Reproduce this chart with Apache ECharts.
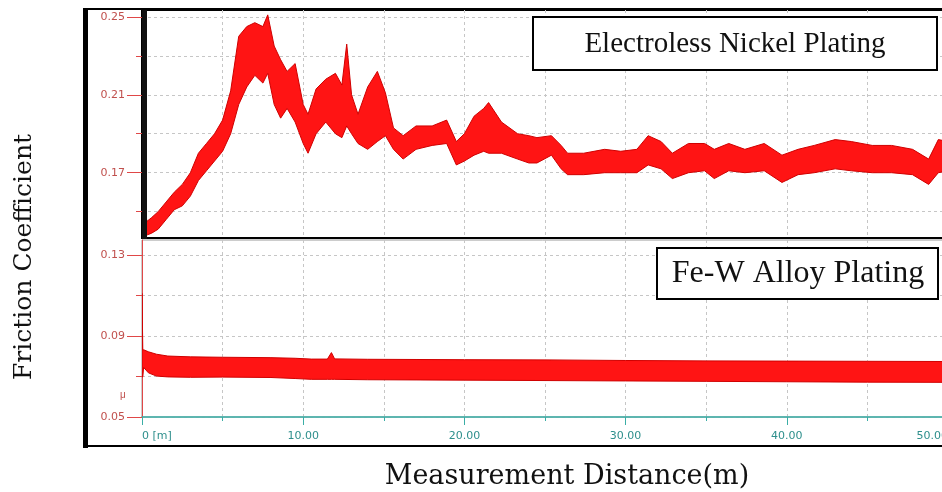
<!DOCTYPE html>
<html>
<head>
<meta charset="utf-8">
<script src="https://cdn.jsdelivr.net/npm/echarts@6/dist/echarts.min.js"></script>
<style>
  html, body { margin: 0; padding: 0; background: #fff; }
  #main { width: 942px; height: 492px; }
</style>
</head>
<body>
<div id="main"></div>
<script>
// Electroless Nickel Plating: distance (m) and lower / upper edge of the trace
const niDist = [0, 0.05, 0.3, 0.6, 1.0, 1.5, 2.0, 2.5, 3.0, 3.5, 4.0, 4.5, 5.0, 5.5, 6.0, 6.5, 7.0, 7.5, 7.8, 8.2,
  8.6, 9.0, 9.5, 10.0, 10.3, 10.8, 11.4, 12.0, 12.4, 12.7, 13.0, 13.4, 14.0, 14.6, 15.1, 15.6, 16.2, 17.0, 18.0, 18.9,
  19.5, 20.0, 20.6, 21.2, 21.5, 22.3, 23.3, 24.0, 24.5, 25.4, 26.0, 26.4, 27.4, 28.7, 29.7, 30.7, 31.4, 32.2, 32.9, 33.9,
  34.9, 35.5, 36.4, 37.4, 38.6, 39.7, 40.7, 41.7, 43.0, 44.0, 45.3, 46.5, 47.8, 48.8, 49.4, 50.0]
const niLow = [0.150, 0.140, 0.138, 0.139, 0.141, 0.146, 0.151, 0.153, 0.158, 0.166, 0.171, 0.176, 0.181, 0.190, 0.205, 0.214, 0.220, 0.216, 0.221, 0.205,
  0.198, 0.203, 0.196, 0.185, 0.180, 0.190, 0.196, 0.190, 0.188, 0.194, 0.190, 0.185, 0.182, 0.186, 0.189, 0.182, 0.177, 0.182, 0.184, 0.185,
  0.174, 0.176, 0.179, 0.181, 0.180, 0.180, 0.177, 0.175, 0.175, 0.179, 0.172, 0.169, 0.169, 0.170, 0.170, 0.170, 0.174, 0.172, 0.167, 0.170,
  0.171, 0.167, 0.171, 0.170, 0.171, 0.165, 0.169, 0.170, 0.172, 0.171, 0.170, 0.170, 0.169, 0.164, 0.170, 0.171]
const niHigh = [0.160, 0.162, 0.145, 0.147, 0.150, 0.155, 0.160, 0.164, 0.170, 0.180, 0.185, 0.190, 0.197, 0.212, 0.240, 0.245, 0.247, 0.245, 0.251, 0.235,
  0.228, 0.222, 0.226, 0.205, 0.200, 0.213, 0.218, 0.221, 0.215, 0.236, 0.210, 0.200, 0.214, 0.222, 0.211, 0.193, 0.189, 0.194, 0.194, 0.197,
  0.186, 0.190, 0.199, 0.203, 0.206, 0.196, 0.190, 0.189, 0.188, 0.189, 0.184, 0.180, 0.180, 0.182, 0.181, 0.182, 0.189, 0.186, 0.180, 0.185,
  0.185, 0.182, 0.185, 0.182, 0.185, 0.179, 0.182, 0.184, 0.187, 0.186, 0.184, 0.184, 0.182, 0.177, 0.187, 0.186]

// Fe-W Alloy Plating
const fwDist = [0, 0.05, 0.1, 0.4, 0.9, 1.6, 3, 5, 8, 9.5, 10.5, 11.5, 11.75, 11.95, 14, 17, 20, 25, 30, 35, 40, 45, 50]
const fwLow = [0.0698, 0.0698, 0.0745, 0.0718, 0.0702, 0.0698, 0.0696, 0.0697, 0.0695, 0.0690, 0.0686, 0.0686, 0.0686, 0.0686, 0.0684,
  0.0683, 0.0682, 0.0680, 0.0678, 0.0676, 0.0674, 0.0672, 0.0671]
const fwHigh = [0.1110, 0.0830, 0.0832, 0.0822, 0.0810, 0.0801, 0.0797, 0.0795, 0.0793, 0.0790, 0.0786, 0.0786, 0.0818, 0.0787, 0.0785,
  0.0784, 0.0783, 0.0782, 0.0779, 0.0777, 0.0776, 0.0775, 0.0774]

// tick labels
const niLabels = [0.17, 0.21, 0.25]
const niTicks = [0.15, 0.17, 0.19, 0.21, 0.23, 0.25]
const fwLabels = [0.05, 0.09, 0.13]
const fwTicks = [0.05, 0.07, 0.09, 0.11, 0.13]

const RED = '#ff1414'
const AXIS_RED = '#e04848'
const LABEL_RED = '#c0504d'
const TEAL = '#3aaea6'
const GRID = { color: '#c6c6c6', type: [3, 3], width: 1 }

function band(dist, low, high) {
  return function (params, api) {
    if (params.dataIndex !== 0) return null
    let pts = []
    for (let i = 0; i < dist.length; i++) pts.push(api.coord([dist[i], low[i]]))
    for (let i = dist.length - 1; i >= 0; i--) pts.push(api.coord([dist[i], high[i]]))
    return {
      type: 'polygon',
      shape: { points: pts },
      style: { fill: RED, stroke: '#d00000', lineWidth: 1 }
    }
  }
}

function mainY(grid, min, max, labels) {
  return {
    type: 'value', gridIndex: grid, position: 'left', min: min, max: max,
    axisLine: { show: true, lineStyle: { color: AXIS_RED, width: 1 } },
    axisTick: { show: true, customValues: labels, length: 15, lineStyle: { color: AXIS_RED } },
    axisLabel: { customValues: labels, formatter: v => v.toFixed(2), color: LABEL_RED, fontSize: 11, margin: 17, fontFamily: 'DejaVu Sans' },
    splitLine: { show: false }
  }
}

function minorY(grid, min, max, ticks) {
  return {
    type: 'value', gridIndex: grid, position: 'left', min: min, max: max,
    axisLine: { show: false },
    axisTick: { show: true, customValues: ticks, length: 6, lineStyle: { color: AXIS_RED } },
    axisLabel: { show: false, customValues: ticks },
    splitLine: { show: true, lineStyle: GRID }
  }
}

var chart = echarts.init(document.getElementById('main'))

let option = {
  animation: false,
  backgroundColor: '#fff',
  grid: [
    { left: 142, top: 10, right: -6, height: 228, show: true, borderColor: '#000', borderWidth: 2, outerBoundsMode: 'none' },
    { left: 142, top: 240, right: -6, height: 177, show: true, borderColor: '#9a9a9a', borderWidth: 1, outerBoundsMode: 'none' }
  ],
  xAxis: [
    {
      type: 'value', gridIndex: 0, min: 0, max: 50, interval: 10,
      axisLine: { show: false }, axisTick: { show: false }, axisLabel: { show: false },
      splitLine: { show: true, lineStyle: GRID },
      minorTick: { show: false, splitNumber: 2 },
      minorSplitLine: { show: true, lineStyle: GRID }
    },
    {
      type: 'value', gridIndex: 1, min: 0, max: 50, interval: 10,
      axisLine: { show: true, onZero: false, lineStyle: { color: TEAL, width: 1.5 } },
      axisTick: { show: true, length: 8, lineStyle: { color: TEAL } },
      minorTick: { show: true, splitNumber: 2, length: 4, lineStyle: { color: TEAL } },
      axisLabel: {
        color: '#2e8f8c', fontSize: 11, margin: 14, fontFamily: 'DejaVu Sans',
        alignMinLabel: 'left', alignMaxLabel: 'right',
        formatter: v => v === 0 ? '0 [m]' : v.toFixed(2)
      },
      splitLine: { show: true, lineStyle: GRID },
      minorSplitLine: { show: true, lineStyle: GRID }
    }
  ],
  yAxis: [
    mainY(0, 0.1365, 0.2535, niLabels),
    minorY(0, 0.1365, 0.2535, niTicks),
    mainY(1, 0.05, 0.1374, fwLabels),
    minorY(1, 0.05, 0.1374, fwTicks)
  ],
  series: [
    {
      name: 'Electroless Nickel Plating', type: 'custom', xAxisIndex: 0, yAxisIndex: 0, clip: true,
      encode: { x: 0, y: [1, 2] },
      data: niDist.map((d, i) => [d, niLow[i], niHigh[i]]),
      renderItem: band(niDist, niLow, niHigh)
    },
    {
      name: 'Fe-W Alloy Plating', type: 'custom', xAxisIndex: 1, yAxisIndex: 2, clip: true,
      encode: { x: 0, y: [1, 2] },
      data: fwDist.map((d, i) => [d, fwLow[i], fwHigh[i]]),
      renderItem: band(fwDist, fwLow, fwHigh)
    }
  ],
  graphic: [
    // outer frame
    { type: 'rect', z: 100, shape: { x: 83, y: 8, width: 5, height: 440 }, style: { fill: '#000' } },
    { type: 'rect', z: 100, shape: { x: 83, y: 8, width: 860, height: 2 }, style: { fill: '#000' } },
    { type: 'rect', z: 100, shape: { x: 83, y: 445, width: 860, height: 2 }, style: { fill: '#000' } },
    // thick left edge of the upper panel
    { type: 'rect', z: 100, shape: { x: 142, y: 10, width: 5, height: 229 }, style: { fill: '#111' } },
    { type: 'text', z: 100, x: 123, y: 395, style: { text: 'μ', fill: LABEL_RED, fontSize: 10, align: 'center', verticalAlign: 'middle' } },
    // panel labels
    { type: 'rect', z: 100, shape: { x: 533, y: 17, width: 404, height: 53 }, style: { fill: '#fff', stroke: '#000', lineWidth: 2 } },
    { type: 'text', z: 101, x: 735, y: 44, style: { text: 'Electroless Nickel Plating', fill: '#111', font: '29px "Liberation Serif"', align: 'center', verticalAlign: 'middle' } },
    { type: 'rect', z: 100, shape: { x: 657, y: 248, width: 281, height: 51 }, style: { fill: '#fff', stroke: '#000', lineWidth: 2 } },
    { type: 'text', z: 101, x: 798, y: 274, style: { text: 'Fe-W Alloy Plating', fill: '#111', font: '32px "Liberation Serif"', align: 'center', verticalAlign: 'middle' } },
    // axis titles
    { type: 'text', x: 24, y: 257, rotation: Math.PI / 2, style: { text: 'Friction Coefficient', fill: '#111', font: '25px "DejaVu Serif"', align: 'center', verticalAlign: 'middle' } },
    { type: 'text', x: 567, y: 477, style: { text: 'Measurement Distance(m)', fill: '#111', font: '27px "DejaVu Serif"', align: 'center', verticalAlign: 'middle' } }
  ]
}

chart.setOption(option)
</script>
</body>
</html>
